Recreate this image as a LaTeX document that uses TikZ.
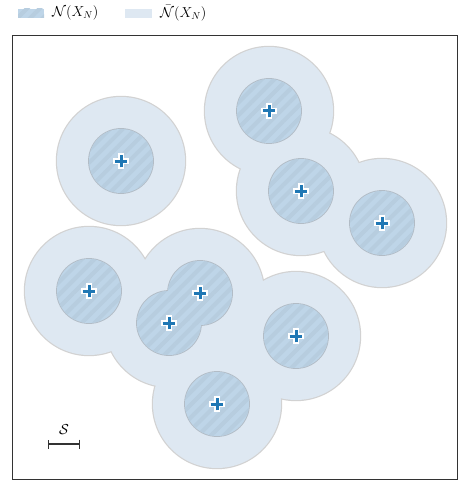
\documentclass[tikz,border=0pt]{standalone}
\usetikzlibrary{patterns.meta,arrows.meta}
\definecolor{outerfill}{HTML}{DEE8F2}
\definecolor{innerfill}{HTML}{BED5E8}
\definecolor{stripe}{HTML}{B7CDDF}
\definecolor{outerrim}{HTML}{D2D2D2}
\definecolor{innerrim}{HTML}{B2BCC6}
\definecolor{markblue}{HTML}{1F77B4}
\definecolor{framegray}{HTML}{333333}
\begin{document}
\begin{tikzpicture}[x=1pt,y=-1pt,font=\Large,
  outerrimline/.style={draw=outerrim,line width=2.4pt},
  innerrimline/.style={draw=innerrim,line width=1.8pt},
  hatch/.style={pattern={Lines[angle=45,distance=9pt,line width=4pt]},pattern color=stripe},
  plusmark/.style={line width=#1,line cap=butt}]
  \useasboundingbox (0,0) rectangle (459,481);
  % points of the set
  \foreach \n/\x/\y in {1/121/161,2/269/111,3/301/191,4/382/223,5/89/291,
                        6/200/293,7/169/323,8/296/336,9/217/404}
    \coordinate (c\n) at (\x,\y);
  % outer neighbourhood (union)
  \foreach \n in {1,...,9} \draw[outerrimline] (c\n) circle[radius=64];
  \foreach \n in {1,...,9} \fill[outerfill] (c\n) circle[radius=64];
  % inner neighbourhood (union)
  \foreach \n in {1,...,9} \draw[innerrimline] (c\n) circle[radius=32];
  \foreach \n in {1,...,9} \fill[innerfill] (c\n) circle[radius=32];
  \foreach \n in {1,...,9} \fill[hatch] (c\n) circle[radius=32];
  % markers
  \foreach \n in {1,...,9} {
    \draw[white,plusmark=5.2pt] ([xshift=-7.6pt]c\n) -- ([xshift=7.6pt]c\n)
      ([yshift=-7.6pt]c\n) -- ([yshift=7.6pt]c\n);
    \draw[markblue,plusmark=3pt] ([xshift=-6.4pt]c\n) -- ([xshift=6.4pt]c\n)
      ([yshift=-6.4pt]c\n) -- ([yshift=6.4pt]c\n);
  }
  % frame
  \draw[framegray,line width=1.2pt] (12.5,35.5) rectangle (457.5,479.5);
  % scale bar
  \coordinate (s0) at (48,444);
  \coordinate (s1) at (80,444);
  \draw[framegray,line width=1.1pt,{Bar[width=9pt]}-{Bar[width=9pt]}] (s0) -- (s1);
  \node (slabel) at (64,430) {$\mathcal{S}$};
  % legend
  \fill[innerfill] (18,9) rectangle (44,18);
  \fill[hatch] (18,9) rectangle (44,18);
  \node[anchor=west,inner sep=0pt] (leg1) at (52,13) {$\mathcal{N}(X_N)$};
  \fill[outerfill] (125,9) rectangle (152,18);
  \node[anchor=west,inner sep=0pt] (leg2) at (160,13) {$\bar{\mathcal{N}}(X_N)$};
\end{tikzpicture}
\end{document}
